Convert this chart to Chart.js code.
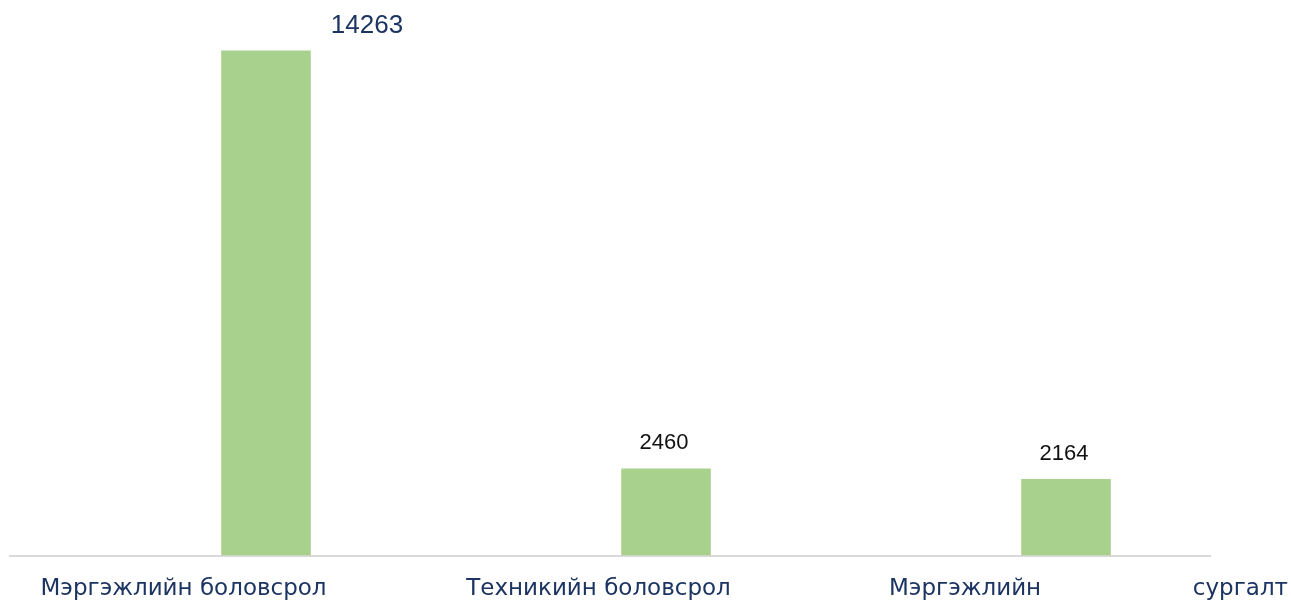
<!DOCTYPE html>
<html>
<head>
<meta charset="utf-8">
<script src="https://cdn.jsdelivr.net/npm/chart.js@4"></script>
<style>
  html, body { margin: 0; padding: 0; background: #fff; }
  #wrap { width: 1291px; height: 600px; position: relative; }
</style>
</head>
<body>
<div id="wrap"><canvas id="eduChart"></canvas></div>
<script>
const categories = ["Мэргэжлийн боловсрол", "Техникийн боловсрол", "Мэргэжлийн сургалт"];
const students = [14263, 2460, 2164];
const emptySlot = [null, null, null];

const navy = "#1c3461";

// value labels above the bars; the first one sits off to the right
const valueLabelStyle = [
  { dx: 101, dy: -25, font: "26px 'Liberation Sans'", color: navy },
  { dx: -2, dy: -25, font: "22px 'Liberation Sans'", color: "#111" },
  { dx: -2, dy: -25, font: "22px 'Liberation Sans'", color: "#111" }
];

// category text under the axis; the last one is spread out over a wide box
const categoryLayout = [
  { dx: -26.5 },
  { dx: -11.5 },
  { from: -121, to: 278 }
];

const valueLabels = {
  id: "valueLabels",
  afterDatasetsDraw(chart) {
    const ctx = chart.ctx;
    const meta = chart.getDatasetMeta(1);
    ctx.save();
    ctx.textAlign = "center";
    ctx.textBaseline = "middle";
    meta.data.forEach((bar, i) => {
      const s = valueLabelStyle[i];
      ctx.font = s.font;
      ctx.fillStyle = s.color;
      ctx.fillText(String(students[i]), bar.x + s.dx, bar.y + s.dy);
    });
    ctx.restore();
  }
};

const categoryLabels = {
  id: "categoryLabels",
  afterDraw(chart) {
    const ctx = chart.ctx;
    const xs = chart.scales.x;
    const baseY = chart.chartArea.bottom + 39.5;
    ctx.save();
    ctx.font = "23px 'DejaVu Sans'";
    ctx.fillStyle = navy;
    ctx.textBaseline = "alphabetic";
    categories.forEach((label, i) => {
      const cx = xs.getPixelForTick(i);
      const lay = categoryLayout[i];
      if (lay.from !== undefined) {
        const words = label.split(" ");
        ctx.textAlign = "left";
        ctx.fillText(words[0], cx + lay.from, baseY);
        ctx.textAlign = "right";
        ctx.fillText(words[words.length - 1], cx + lay.to, baseY);
      } else {
        ctx.textAlign = "center";
        ctx.fillText(label, cx + lay.dx, baseY);
      }
    });
    ctx.restore();
  }
};

new Chart(document.getElementById("eduChart"), {
  type: "bar",
  data: {
    labels: categories,
    datasets: [
      { data: emptySlot, backgroundColor: "rgba(0,0,0,0)" },
      { data: students, backgroundColor: "#a9d18e" }
    ]
  },
  options: {
    responsive: true,
    maintainAspectRatio: false,
    animation: false,
    categoryPercentage: 0.56,
    barPercentage: 0.8,
    layout: { padding: { left: 10, right: 81, top: 24.5, bottom: 44.5 } },
    plugins: { legend: { display: false }, tooltip: { enabled: false } },
    scales: {
      x: {
        grid: { display: false, drawTicks: false },
        border: { display: true, color: "#d9d9d9", width: 2 },
        ticks: { display: false }
      },
      y: { display: false, min: 0, max: 15000 }
    }
  },
  plugins: [valueLabels, categoryLabels]
});
</script>
</body>
</html>
